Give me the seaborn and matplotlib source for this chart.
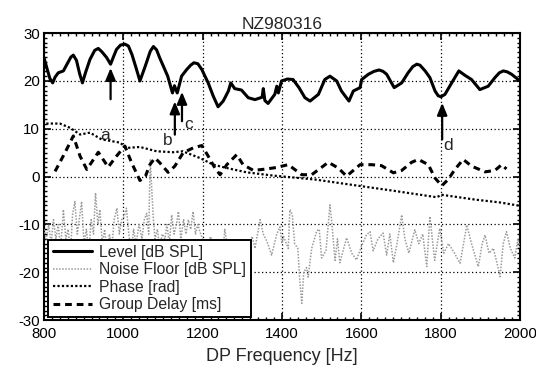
import numpy as np
import pandas as pd
import matplotlib
matplotlib.use("Agg")
import matplotlib.pyplot as plt
import seaborn as sns
from matplotlib.ticker import MultipleLocator

# ---------------- data ----------------
level_freq = [800, 808, 815, 822, 828, 836, 849, 860, 868, 874, 882, 890, 897, 905,
              916, 928, 937, 946, 958, 968, 976, 983, 993, 1004, 1013, 1022, 1032,
              1042, 1055, 1068, 1076, 1084, 1092, 1101, 1112, 1124, 1129, 1136, 1147,
              1160, 1170, 1178, 1188, 1198, 1214, 1227, 1239, 1252, 1265, 1271, 1281,
              1298, 1315, 1332, 1350, 1353, 1357, 1365, 1382, 1387, 1391, 1399, 1414,
              1428, 1443, 1458, 1471, 1492, 1508, 1521, 1538, 1550, 1569, 1580, 1597,
              1601, 1618, 1632, 1645, 1655, 1664, 1683, 1702, 1718, 1730, 1740, 1748,
              1761, 1773, 1786, 1794, 1801, 1811, 1828, 1846, 1861, 1878, 1899, 1920,
              1937, 1948, 1958, 1968, 1979, 2000]
level_db = [24.9, 22.5, 20.5, 19.6, 20.8, 21.7, 22.1, 23.8, 25.0, 25.4, 24.3, 21.5,
            19.6, 21.8, 24.5, 26.4, 26.8, 26.1, 24.9, 23.5, 25.2, 26.6, 27.5, 27.7,
            27.3, 25.5, 22.8, 20.0, 23.0, 26.2, 27.2, 26.5, 24.8, 23.1, 21.0, 17.5,
            19.0, 17.5, 21.0, 22.4, 23.3, 23.8, 23.6, 22.4, 19.6, 16.8, 14.6, 15.8,
            17.9, 19.6, 18.4, 18.1, 16.5, 16.1, 16.6, 18.4, 15.9, 15.3, 17.2, 18.9,
            17.5, 20.0, 20.4, 20.3, 18.6, 16.5, 15.8, 17.2, 20.3, 21.0, 20.0, 17.9,
            15.8, 17.9, 18.6, 20.3, 21.4, 22.0, 22.3, 22.0, 21.4, 18.6, 19.6, 21.7,
            23.0, 23.5, 23.3, 22.1, 20.7, 17.9, 16.9, 16.7, 17.2, 19.6, 22.1, 21.2,
            20.3, 18.2, 18.9, 20.7, 21.7, 22.1, 21.9, 21.4, 20.0]

phase_freq = [806, 840, 866, 891, 916, 945, 992, 1008, 1042, 1084, 1126, 1150, 1193,
              1227, 1261, 1311, 1380, 1483, 1592, 1677, 1790, 1803, 1887, 1950, 2000]
phase_rad = [11.1, 11.1, 10.2, 8.8, 9.2, 7.8, 7.1, 6.0, 6.2, 5.3, 5.1, 5.3, 3.9,
             2.5, 1.8, 0.9, 0.2, -0.6, -1.9, -2.9, -4.3, -3.8, -4.8, -5.4, -6.1]

delay_freq = [828, 853, 874, 891, 908, 925, 937, 962, 983, 1004, 1021, 1042, 1056,
              1067, 1080, 1092, 1113, 1130, 1151, 1176, 1198, 1214, 1231, 1244, 1261,
              1286, 1302, 1328, 1361, 1385, 1416, 1450, 1475, 1517, 1542, 1563, 1597,
              1626, 1651, 1681, 1702, 1727, 1744, 1769, 1786, 1803, 1819, 1836, 1857,
              1878, 1912, 1937, 1954, 1966]
delay_ms = [1.1, 5.0, 8.5, 4.3, 1.5, 3.6, 5.1, 2.0, 4.3, 6.4, 2.9, -0.8, 0.1, 2.5,
            3.9, 2.9, 0.9, 2.2, 5.0, 6.0, 6.5, 4.3, 1.8, 0.4, 2.5, 4.6, 2.5, 1.3, 1.6,
            1.9, 2.5, 0.4, 0.4, 3.0, 1.8, 0.1, 2.5, 2.5, 2.3, 0.8, 1.3, 3.0, 3.6, 2.5,
            -0.3, -1.9, -0.6, 1.5, 3.6, 2.2, 1.0, 1.3, 2.5, 1.6]

noise_freq = [800, 806, 812, 818, 824, 830, 836, 842, 849, 855, 861, 867, 872, 878,
              884, 889, 895, 901, 907, 913, 919, 925, 930, 936, 941, 947, 953, 959,
              965, 971, 977, 984, 990, 996, 1002, 1008, 1014, 1020, 1026, 1032, 1040,
              1047, 1053, 1059, 1064, 1068, 1072, 1076, 1080, 1086, 1092, 1098, 1105,
              1110, 1116, 1122, 1128, 1134, 1139, 1145, 1152, 1158, 1164, 1170, 1176,
              1182, 1188, 1193, 1200, 1210, 1220, 1231, 1240, 1250, 1256, 1265, 1280,
              1295, 1310, 1325, 1332, 1345, 1353, 1362, 1374, 1387, 1395, 1400, 1404,
              1416, 1420, 1426, 1432, 1440, 1445, 1450, 1455, 1462, 1466, 1475, 1488,
              1494, 1500, 1511, 1521, 1525, 1534, 1540, 1546, 1563, 1576, 1588, 1601,
              1613, 1622, 1630, 1642, 1655, 1664, 1672, 1681, 1690, 1702, 1710, 1720,
              1735, 1745, 1755, 1765, 1773, 1785, 1798, 1808, 1820, 1835, 1849, 1858,
              1866, 1878, 1895, 1905, 1912, 1922, 1933, 1942, 1950, 1958, 1966, 1976,
              1987, 1995, 2000]
noise_db = [-11, -13, -10, -14, -9, -13, -10, -15, -6.9, -13, -11, -16, -8, -5.2,
            -12, -9, -5.2, -14, -11, -16, -9, -12, -3.4, -10, -6.9, -14, -11, -16,
            -12, -15, -9, -6.6, -12, -9, -8.4, -6.6, -12, -16, -11, -14, -10,
            -13, -9, -7.7, -12, 3.5, -3, -9, -13, -11, -15, -12, -13,
            -10, -14, -8, -12, -10, -7.3, -13, -9, -12, -9, -11, -7.3,
            -12, -10, -11.5, -13, -15, -12.5, -16, -14, -17, -11, -16, -18,
            -15, -17, -12.5, -15, -9, -12, -13.5, -16.4, -12, -10.5, -14, -12.5,
            -15, -6.9, -7.9, -14, -15, -21.6, -26.5, -20, -19, -21, -15, -11.3,
            -11, -17, -15.5, -5.9, -9, -17.5, -13, -18, -12.8, -16, -17.4, -14.5,
            -12.2, -11.5, -15.5, -13, -11.8, -16.4, -12, -18, -14, -8, -13, -16,
            -11.1, -14, -12, -18.8, -8.3, -17.5, -10.8, -16, -14, -16, -18.1, -14,
            -10.1, -14, -18.8, -14, -12.2, -16, -15, -18, -20.9, -14, -11.5, -15,
            -17, -13, -15]

x_ticks = [800, 1000, 1200, 1400, 1600, 1800, 2000]
y_ticks = [-30, -20, -10, 0, 10, 20, 30]

# ---------------- style ----------------
sns.set_theme(style="ticks")
plt.rcParams["font.family"] = ["Liberation Sans", "DejaVu Sans"]
plt.rcParams["axes.unicode_minus"] = False

fig = plt.figure(figsize=(5.36, 3.68), dpi=100)
ax = fig.add_axes([0.082, 0.130, 0.888, 0.780])

df_level = pd.DataFrame({"f": level_freq, "v": level_db})
df_noise = pd.DataFrame({"f": noise_freq, "v": noise_db})
df_phase = pd.DataFrame({"f": phase_freq, "v": phase_rad})
df_delay = pd.DataFrame({"f": delay_freq, "v": delay_ms})

sns.lineplot(data=df_level, x="f", y="v", ax=ax, color="black", lw=2.2,
             estimator=None, sort=False, label="Level [dB SPL]", zorder=5)
sns.lineplot(data=df_noise, x="f", y="v", ax=ax, color="#9a9a9a", lw=1.1,
             linestyle=(0, (1, 1)), estimator=None, sort=False,
             label="Noise Floor [dB SPL]", zorder=3)
sns.lineplot(data=df_phase, x="f", y="v", ax=ax, color="black", lw=1.6,
             linestyle=(0, (1, 1)), estimator=None, sort=False,
             label="Phase [rad]", zorder=4)
sns.lineplot(data=df_delay, x="f", y="v", ax=ax, color="black", lw=2.2,
             linestyle=(0, (2.2, 1.6)), estimator=None, sort=False,
             label="Group Delay [ms]", zorder=4)

ax.set_xlim(800, 2000)
ax.set_ylim(-30, 30)
ax.set_xticks(x_ticks)
ax.set_yticks(y_ticks)
ax.xaxis.set_minor_locator(MultipleLocator(20))
ax.yaxis.set_minor_locator(MultipleLocator(1))
ax.tick_params(which="both", direction="in", top=True, right=True, colors="black",
               labelsize=10.8)
ax.tick_params(axis="x", which="major", pad=5)
ax.tick_params(axis="y", which="major", pad=3)
ax.tick_params(which="major", length=5, width=1.2)
ax.tick_params(which="minor", length=2.5, width=1)
for s in ax.spines.values():
    s.set_linewidth(1.5)
    s.set_color("black")
ax.grid(True, which="major", color="black", linestyle=(0, (1, 2)), lw=0.9)

ax.set_xlabel("DP Frequency [Hz]", fontsize=13, labelpad=5)
ax.set_ylabel("")
ax.set_title("NZ980316", fontsize=12.5, pad=3)

# annotations
arrow_kw = dict(arrowstyle="-|>,head_length=0.6,head_width=0.25", color="black", lw=1.6)
ax.annotate("", xy=(968, 23.3), xytext=(968, 15.6), arrowprops=arrow_kw, zorder=6)
ax.annotate("", xy=(1130, 16.3), xytext=(1130, 8.2), arrowprops=arrow_kw, zorder=6)
ax.annotate("", xy=(1148, 18.3), xytext=(1148, 11.0), arrowprops=arrow_kw, zorder=6)
ax.annotate("", xy=(1804, 16.0), xytext=(1804, 7.2), arrowprops=arrow_kw, zorder=6)
ax.text(953, 8.5, "a", fontsize=12.5, ha="center", va="center")
ax.text(1112, 7.6, "b", fontsize=12.5, ha="center", va="center")
ax.text(1165, 11.0, "c", fontsize=12.5, ha="center", va="center")
ax.text(1820, 6.6, "d", fontsize=12.5, ha="center", va="center")

leg = ax.legend(loc="lower left", bbox_to_anchor=(0.009, 0.012), fontsize=11.3,
                frameon=True, fancybox=False, framealpha=1, edgecolor="black",
                handlelength=2.5, handletextpad=0.45, labelspacing=0.15,
                borderpad=0.3, borderaxespad=0)
leg.get_frame().set_linewidth(1.4)
leg.set_zorder(10)

fig.savefig("out.png", dpi=100)
